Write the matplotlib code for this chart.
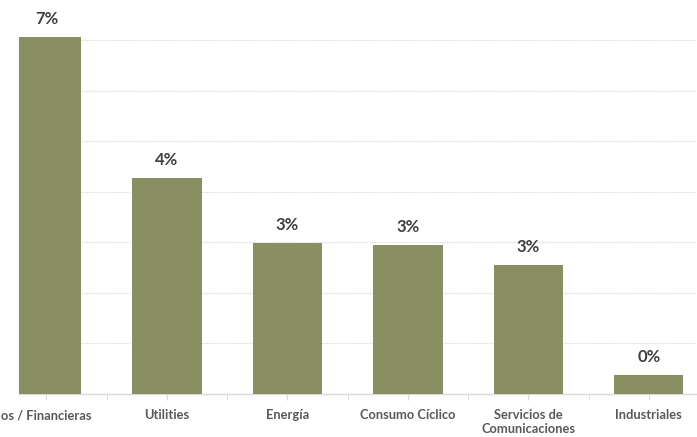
import numpy as np
import matplotlib.pyplot as plt
from matplotlib.ticker import FixedLocator

# data
categorias = ['os / Financieras', 'Utilities', 'Energía', 'Consumo Cíclico',
              'Servicios de\nComunicaciones', 'Industriales']
valores = [7.05, 4.27, 2.99, 2.95, 2.55, 0.38]
grid_vals = [1, 2, 3, 4, 5, 6, 7]

plt.rcParams['font.family'] = ['Lato', 'DejaVu Sans']

fig = plt.figure(figsize=(6.97, 4.37), dpi=100)
ax = fig.add_axes([19 / 697, 43 / 437, 678 / 697, 394 / 437])

x = np.arange(len(categorias))
bars = ax.bar(x, valores, width=0.575, color='#898E63', zorder=3)

for xi, v in zip(x, valores):
    ax.annotate(f'{v:.0f}%', (xi, v), xytext=(0, 13), textcoords='offset points',
                ha='center', va='center', fontsize=12, fontweight='bold', color='#404040')

ax.set_xlim(-0.228, 5.40)
ax.set_ylim(0, 7.79)

ax.set_yticks(grid_vals)
ax.tick_params(axis='y', left=False, labelleft=False)
ax.yaxis.grid(True, color='#d9d9d9', linestyle=(0, (1, 1)), linewidth=0.9, zorder=0)

ax.set_xticks(x)
ax.set_xticklabels(categorias, fontsize=9.3, fontweight='bold', color='#595959',
                   linespacing=1.2)
ax.xaxis.set_minor_locator(FixedLocator(x[:-1] + 0.5))
ax.tick_params(axis='x', which='both', length=4, color='#d9d9d9', pad=7)

for s in ['top', 'right', 'left']:
    ax.spines[s].set_visible(False)
ax.spines['bottom'].set_color('#d9d9d9')
ax.spines['bottom'].set_linewidth(1.0)

plt.savefig('out.png', dpi=100)
